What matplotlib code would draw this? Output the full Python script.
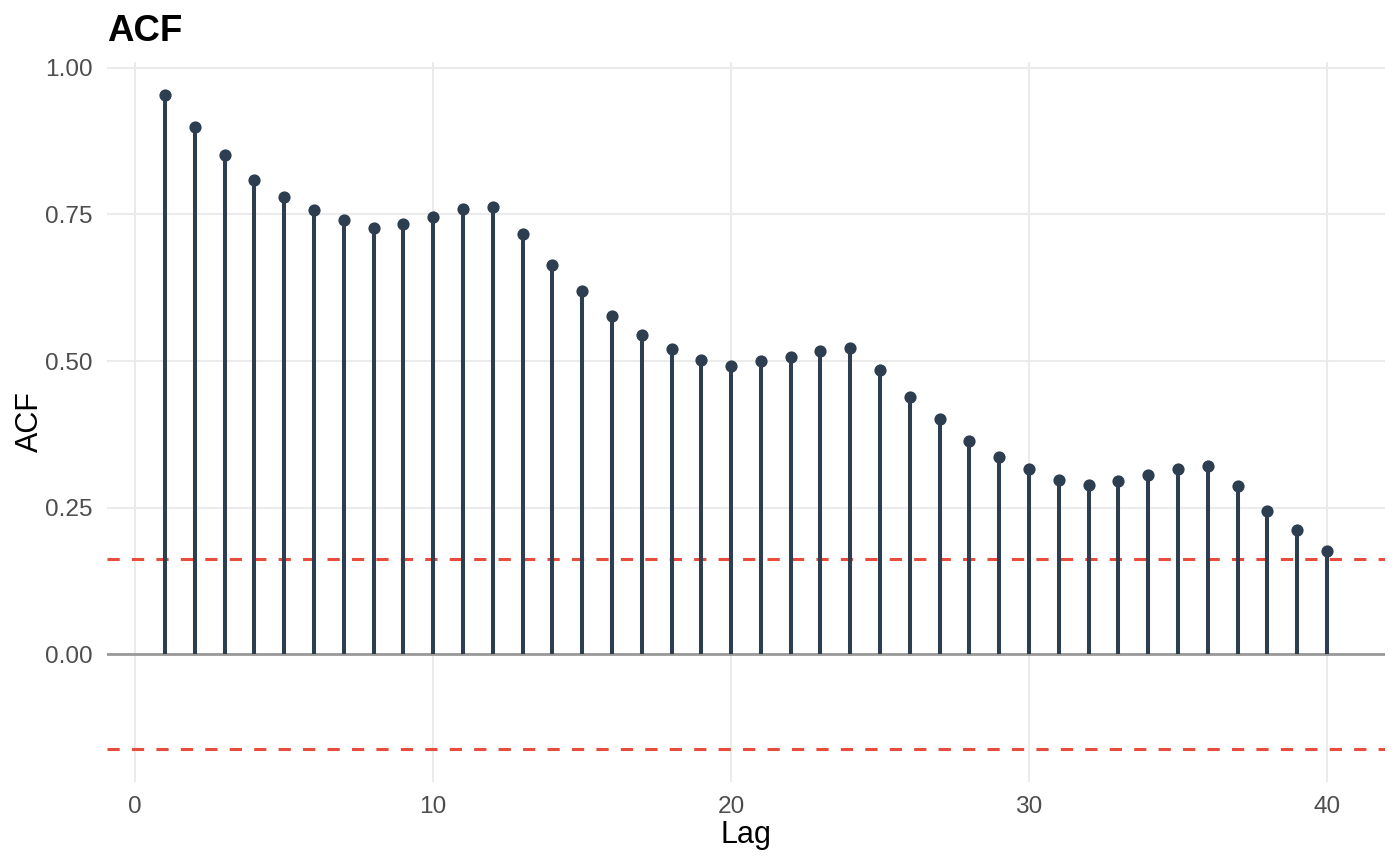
import matplotlib
matplotlib.use("Agg")
import matplotlib.pyplot as plt
import numpy as np

plt.rcParams['font.family'] = ['Liberation Sans', 'DejaVu Sans']

lags = list(range(1, 41))
acf_values = [0.954, 0.899, 0.852, 0.809, 0.780, 0.758, 0.741, 0.727, 0.734, 0.746,
              0.759, 0.763, 0.717, 0.664, 0.619, 0.577, 0.544, 0.520, 0.502, 0.491,
              0.500, 0.507, 0.517, 0.522, 0.485, 0.439, 0.401, 0.363, 0.336, 0.316,
              0.297, 0.288, 0.295, 0.305, 0.316, 0.321, 0.287, 0.244, 0.212, 0.176]
conf_bound = 0.162
x_ticks = [0, 10, 20, 30, 40]
y_ticks = [0.0, 0.25, 0.5, 0.75, 1.0]
y_tick_labels = ["0.00", "0.25", "0.50", "0.75", "1.00"]

W, H = 1400, 866
fig = plt.figure(figsize=(7, 4.33), dpi=200)
L, R, T, B = 107, 1385, 62, 782
ax = fig.add_axes([L / W, (H - B) / H, (R - L) / W, (B - T) / H])

stem_col = "#2C3E50"
red = "#E74C3C"

x = np.array(lags)
y = np.array(acf_values)

ax.axhline(0, color="#999999", lw=1.0, zorder=2)
ax.axhline(conf_bound, color=red, lw=1.1, dashes=(4, 4), zorder=2)
ax.axhline(-conf_bound, color=red, lw=1.1, dashes=(4, 4), zorder=2)
ax.vlines(x, 0, y, color=stem_col, lw=1.45, zorder=3)
ax.plot(x, y, 'o', color=stem_col, ms=4.4, mec='none', zorder=4)

xmin, xmax = min(lags), max(lags)
dx = (xmax - xmin) * 0.05
ax.set_xlim(xmin - dx, xmax + dx)
ymin, ymax = -conf_bound, max(acf_values)
dy = (ymax - ymin) * 0.05
ax.set_ylim(ymin - dy, ymax + dy)

ax.set_xticks(x_ticks)
ax.set_xticklabels([str(t) for t in x_ticks])
ax.set_yticks(y_ticks)
ax.set_yticklabels(y_tick_labels)
ax.grid(True, color="#EBEBEB", lw=0.75, zorder=0)
ax.set_axisbelow(True)
for s in ax.spines.values():
    s.set_visible(False)
ax.tick_params(length=0, labelsize=8.8, labelcolor="#4D4D4D", pad=5.2)

fig.text(L / W, (H - 41) / H, "ACF", fontsize=13.2, fontweight="bold", ha="left", va="baseline")
fig.text((L + R) / 2 / W, (H - 835) / H, "Lag", fontsize=11, ha="center", va="center")
fig.text(30 / W, (H - (T + B) / 2) / H, "ACF", fontsize=11, ha="center", va="center", rotation=90)

fig.savefig("out.png", dpi=200, facecolor="white")
